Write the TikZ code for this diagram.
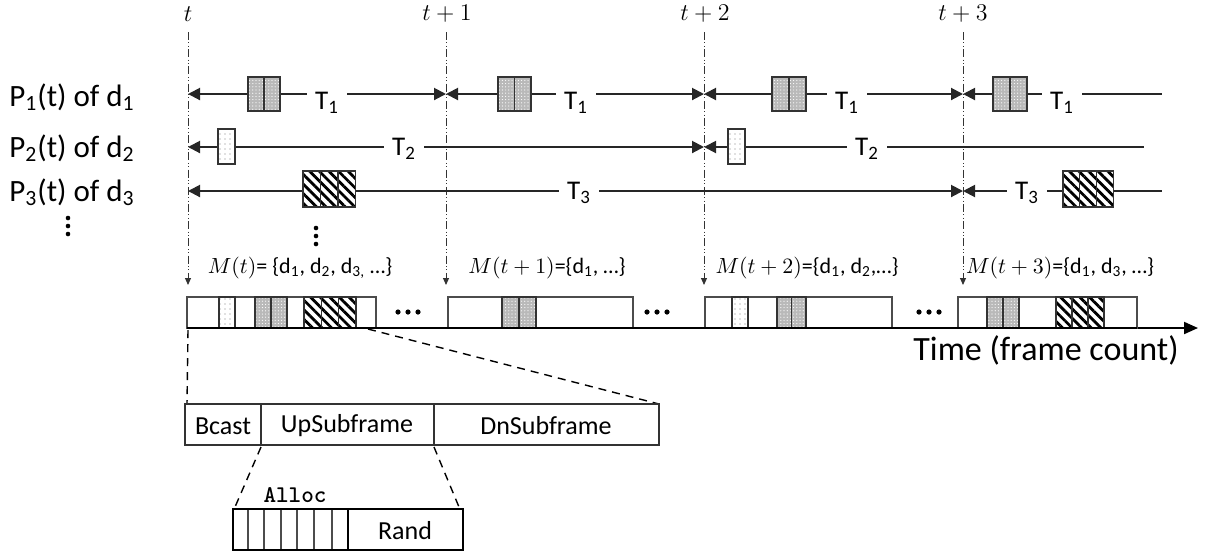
\documentclass[tikz,border=0pt]{standalone}
\usepackage{fontspec}
\setmainfont{Carlito}
\usetikzlibrary{arrows.meta,patterns.meta}
\newcommand\fsBig{\fontsize{15.5}{19}\selectfont}
\newcommand\fsTime{\fontsize{17}{20}\selectfont}
\newcommand\fsT{\fontsize{13.5}{16}\selectfont}
\newcommand\fsM{\fontsize{11}{13}\selectfont}
\newcommand\fsSub{\fontsize{13}{15}\selectfont}
\newcommand\mycells[6]{\foreach \k in {1,...,#4}{\draw[#1] ({#2+(\k-1)*#3},{#5-#6}) rectangle ({#2+\k*#3},{#5+#6});}}
\tikzset{
  rowline/.style={line width=1pt, draw=black!85},
  vline/.style={line width=0.5pt, draw=black!80, dash pattern=on 4pt off 1.2pt on 0.5pt off 1.2pt on 0.5pt off 1.2pt, -{Triangle[length=3.5pt,width=3pt]}},
  tlab/.style={font=\fontsize{13}{15}\selectfont, inner sep=0pt},
  tnode/.style={font=\fsT, fill=white, inner xsep=4pt, inner ysep=1.5pt},
  plab/.style={font=\fsBig, inner sep=0pt},
  mlab/.style={font=\fsM, inner sep=0pt},
  stip/.style={draw=black!80, line width=0.6pt, preaction={fill=gray!55}, pattern={Dots[distance=1.6pt,radius=0.3pt]}, pattern color=white},
  sparse/.style={draw=black!80, line width=0.6pt, preaction={fill=white}, pattern={Dots[distance=2.5pt,radius=0.3pt]}, pattern color=gray},
  hatch/.style={draw=black!80, line width=0.6pt, preaction={fill=white}, pattern={Lines[angle=-45,distance=3.4pt,line width=1.4pt]}, pattern color=black},
  frame/.style={draw=black!70, line width=0.6pt, fill=white},
  zoomline/.style={line width=0.7pt, dash pattern=on 4pt off 3pt},
  sublab/.style={font=\fsSub, inner sep=0pt}
}
\begin{document}
\begin{tikzpicture}[x=0.5pt,y=-0.5pt]
\useasboundingbox (0,0) rectangle (1214,554);

% time markers and vertical dash-dot lines
\foreach \n/\x/\lab in {0/188/t, 1/447/t+1, 2/705/t+2, 3/963/t+3} {
  \node[tlab] (lab\n) at (\x,14) {$\lab$};
}
\foreach \n/\x in {0/188, 1/446, 2/704, 3/963} {
  \coordinate (vt\n) at (\x,32);
  \coordinate (vb\n) at (\x,285);
  \draw[vline] (vt\n) -- (vb\n);
}

% left labels
\node[plab] (p1) at (72,97) {P\textsubscript{1}(t) of d\textsubscript{1}};
\node[plab] (p2) at (72,148) {P\textsubscript{2}(t) of d\textsubscript{2}};
\node[plab] (p3) at (72,192) {P\textsubscript{3}(t) of d\textsubscript{3}};
\foreach \yy in {218,226,234} \fill (68,\yy) circle (2.3);
\foreach \yy in {228,236,244} \fill (316,\yy) circle (2.3);

% row 1
\coordinate (a0) at (188,94);
\coordinate (a1) at (446,94);
\coordinate (a2) at (704,94);
\coordinate (a3) at (963,94);
\coordinate (a4) at (1162,94);
\draw[rowline, {Triangle[length=6pt,width=6pt]}-{Triangle[length=6pt,width=6pt]}] (a0) -- (a1);
\draw[rowline, {Triangle[length=6pt,width=6pt]}-{Triangle[length=6pt,width=6pt]}] (a1) -- (a2);
\draw[rowline, {Triangle[length=6pt,width=6pt]}-{Triangle[length=6pt,width=6pt]}] (a2) -- (a3);
\draw[rowline, {Triangle[length=6pt,width=6pt]}-] (a3) -- (a4);
\node[tnode] (t1a) at (327,103) {T\textsubscript{1}};
\node[tnode] (t1b) at (576,103) {T\textsubscript{1}};
\node[tnode] (t1c) at (847,103) {T\textsubscript{1}};
\node[tnode] (t1d) at (1062,103) {T\textsubscript{1}};
\mycells{stip}{248}{16}{2}{94}{17}
\mycells{stip}{498}{16.5}{2}{94}{17}
\mycells{stip}{772}{17}{2}{94}{17}
\mycells{stip}{993}{17}{2}{94}{17}

% row 2
\coordinate (b0) at (188,147);
\coordinate (b2) at (704,147);
\coordinate (b4) at (1144,147);
\draw[rowline, {Triangle[length=6pt,width=6pt]}-{Triangle[length=6pt,width=6pt]}] (b0) -- (b2);
\draw[rowline, {Triangle[length=6pt,width=6pt]}-] (b2) -- (b4);
\node[tnode] (t2a) at (404,149) {T\textsubscript{2}};
\node[tnode] (t2b) at (867,149) {T\textsubscript{2}};
\mycells{sparse}{218}{17}{1}{146.5}{17.5}
\mycells{sparse}{728}{17}{1}{146.5}{17.5}

% row 3
\coordinate (c0) at (188,191);
\coordinate (c3) at (963,191);
\coordinate (c4) at (1162,191);
\draw[rowline, {Triangle[length=6pt,width=6pt]}-{Triangle[length=6pt,width=6pt]}] (c0) -- (c3);
\draw[rowline, {Triangle[length=6pt,width=6pt]}-] (c3) -- (c4);
\node[tnode] (t3a) at (579,193) {T\textsubscript{3}};
\node[tnode] (t3b) at (1027,193) {T\textsubscript{3}};
\mycells{hatch}{303}{17.5}{3}{189}{18}
\mycells{hatch}{1063}{16.7}{3}{189}{18}

% frame labels
\node[mlab] (m0) at (300,268) {$M(t)$= \{d\textsubscript{1}, d\textsubscript{2}, d\textsubscript{3,} …\}};
\node[mlab] (m1) at (547,268) {$M(t+1)$=\{d\textsubscript{1}, …\}};
\node[mlab] (m2) at (807,268) {$M(t+2)$=\{d\textsubscript{1}, d\textsubscript{2},…\}};
\node[mlab] (m3) at (1060,268) {$M(t+3)$=\{d\textsubscript{1}, d\textsubscript{3}, …\}};

% time axis
\coordinate (ax0) at (187,328);
\coordinate (ax1) at (1198,328);
\draw[line width=1pt, -{Triangle[length=7pt,width=6pt]}] (ax0) -- (ax1);
\node[font=\fsTime, inner sep=0pt] (time) at (1046,350) {Time (frame count)};

% frames
\draw[frame] (187,297) rectangle (376,328);
\mycells{sparse}{219}{16}{1}{312.5}{15.5}
\mycells{stip}{255}{16}{2}{312.5}{15.5}
\mycells{hatch}{304}{17.33}{3}{312.5}{15.5}
\draw[frame] (448,297) rectangle (633,328);
\mycells{stip}{502}{17}{2}{312.5}{15.5}
\draw[frame] (705,297) rectangle (892,328);
\mycells{sparse}{732}{16}{1}{312.5}{15.5}
\mycells{stip}{777}{14.5}{2}{312.5}{15.5}
\draw[frame] (958,297) rectangle (1137,328);
\mycells{stip}{987}{16}{2}{312.5}{15.5}
\mycells{hatch}{1056}{16}{3}{312.5}{15.5}
\draw[line width=1pt] (ax0) -- (1137,328);

% ellipses between frames
\foreach \cx in {408,657,929} {
  \foreach \dx in {-10,0,10} \fill (\cx+\dx,312) circle (2.6);
}

% zoom to subframe
\coordinate (f1bl) at (188,330);
\coordinate (f1br) at (368,329);
\coordinate (sftl) at (187,404);
\coordinate (sftr) at (659,404);
\draw[zoomline] (f1bl) -- (sftl);
\draw[zoomline] (f1br) -- (sftr);

\draw[line width=0.6pt, draw=black!80] (185,404) rectangle (659,445);
\draw[line width=0.6pt, draw=black!80] (261,404) -- (261,445);
\draw[line width=0.6pt, draw=black!80] (434,404) -- (434,445);
\node[sublab] (bcast) at (223,426) {Bcast};
\node[sublab] (up) at (347,426) {UpSubframe};
\node[sublab] (dn) at (546,426) {DnSubframe};

% zoom to alloc
\coordinate (upbl) at (261,447);
\coordinate (upbr) at (434,447);
\coordinate (altl) at (235,507);
\coordinate (altr) at (459,507);
\draw[zoomline] (upbl) -- (altl);
\draw[zoomline] (upbr) -- (altr);

\node[font=\ttfamily\bfseries\fontsize{12}{14}\selectfont, inner sep=0pt] (alloc) at (295,495) {Alloc};
\foreach \xx in {248,264,281,297,314,332} \draw[line width=0.6pt, draw=black!70] (\xx,509) -- (\xx,550);
\draw[line width=1.1pt] (348,509) -- (348,550);
\draw[line width=1.1pt] (233,509) rectangle (463,550);
\node[sublab] (rand) at (405,531) {Rand};
\end{tikzpicture}
\end{document}
